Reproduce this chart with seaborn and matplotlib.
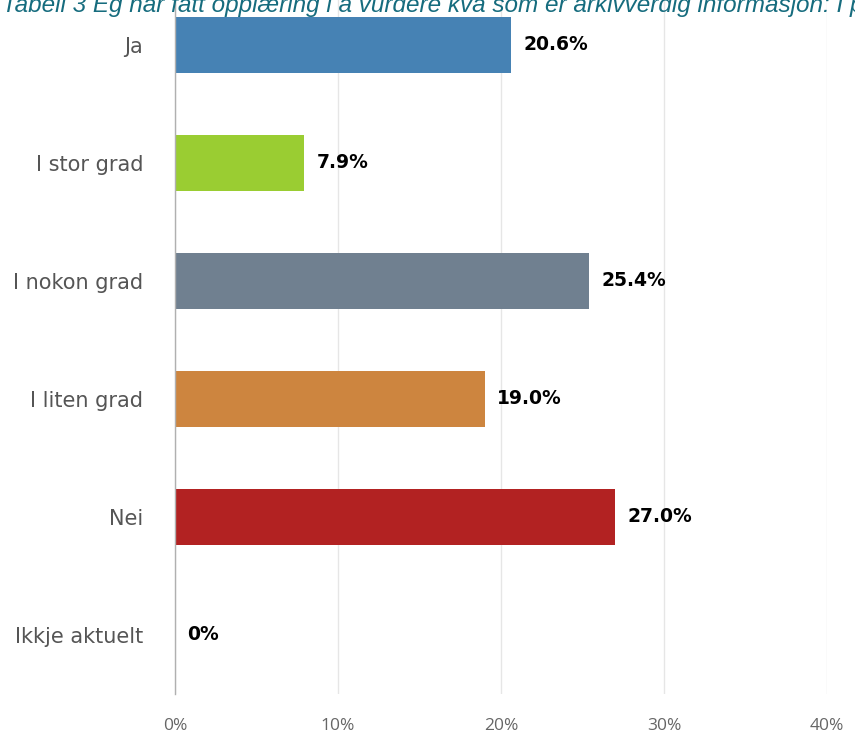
import matplotlib
matplotlib.use("Agg")
import matplotlib.pyplot as plt
import seaborn as sns
import pandas as pd

categories = ["Ja", "I stor grad", "I nokon grad", "I liten grad", "Nei", "Ikkje aktuelt"]
values = [20.6, 7.9, 25.4, 19.0, 27.0, 0.0]
value_labels = ["20.6%", "7.9%", "25.4%", "19.0%", "27.0%", "0%"]
colors = ["#4682B4", "#9ACD32", "#708090", "#CD853F", "#B22222", "#888888"]
x_ticks = [0, 10, 20, 30, 40]
x_tick_labels = ["0%", "10%", "20%", "30%", "40%"]
title = "Tabell 3 Eg har fått opplæring i å vurdere kva som er arkivverdig informasjon: I periode"

sns.set_theme(style="white")
plt.rcParams["font.family"] = ["DejaVu Sans"]

df = pd.DataFrame({"cat": categories, "val": values})

fig = plt.figure(figsize=(8.55, 7.35), dpi=100)
ax = fig.add_axes([175 / 855, 41 / 735, (827 - 175) / 855, (749 - 41) / 735])

sns.barplot(data=df, y="cat", x="val", hue="cat", palette=colors, legend=False,
            orient="h", width=0.47, ax=ax, saturation=1, zorder=3, linewidth=0)

ax.set_xlim(0, 40)
ax.set_ylim(5.5, -0.5)
ax.set_xticks(x_ticks)
ax.set_xticklabels(x_tick_labels, color="#666666", fontsize=12.5, family="Open Sans")
ax.tick_params(axis="x", length=0, pad=17)
ax.tick_params(axis="y", length=0, pad=23)
for lbl in ax.get_yticklabels():
    lbl.set_color("#555555")
    lbl.set_fontsize(15)
ax.set_xlabel("")
ax.set_ylabel("")
ax.grid(axis="x", color="#e6e6e6", linewidth=1, zorder=0)
for s in ["top", "right", "bottom"]:
    ax.spines[s].set_visible(False)
ax.spines["left"].set_color("#b0b0b0")
ax.spines["left"].set_linewidth(1)
ax.spines["left"].set_zorder(5)

for i, (v, t) in enumerate(zip(values, value_labels)):
    ax.annotate(t, xy=(v, i), xytext=(9, 0), textcoords="offset points",
                va="center", ha="left", fontsize=13.5, fontweight="bold",
                color="#000000", family="DejaVu Sans")

fig.text(2 / 855, (735 - 12) / 735, title, color="#166c7e", fontsize=17.5,
         style="italic", va="baseline", ha="left", family="Liberation Sans")

fig.savefig("out.png", dpi=100)
